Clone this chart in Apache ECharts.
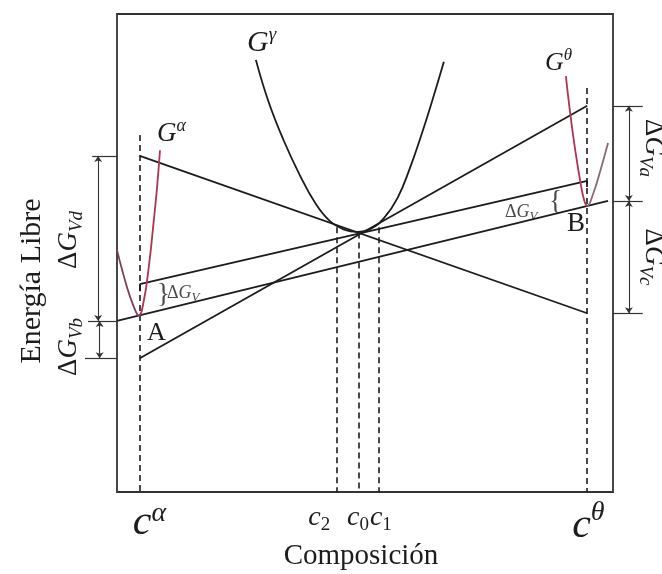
<!DOCTYPE html>
<html>
<head>
<meta charset="utf-8">
<script src="https://cdn.jsdelivr.net/npm/echarts@6/dist/echarts.min.js"></script>
<style>
  html, body { margin: 0; padding: 0; background: #ffffff; }
  #chart { width: 662px; height: 574px; }
</style>
</head>
<body>
<div id="chart"></div>
<script>
// ---- Data (composition 0..100, free energy 0..100) ----

// Marked compositions: cα, c2, c0, c1, cθ and where each dashed guide starts
const markerComps = [4.6, 44.4, 48.8, 52.8, 94.8];
const markerTops  = [74.7, 55.4, 54.3, 55.4, 84.5];

// Free-energy curve of the γ phase
const gGamma = [
  [28.0, 90.4], [30.5, 81.8], [33.5, 73.8], [36.9, 66.2], [40.0, 60.4],
  [43.0, 56.6], [45.8, 54.9], [48.4, 54.4], [51.2, 55.1], [53.9, 57.4],
  [56.6, 61.6], [59.0, 67.6], [61.4, 74.8], [63.6, 82.0], [65.9, 90.0]
];
// Free-energy curve of the α phase
const gAlpha = [
  [0.0, 50.6], [2.0, 42.9], [3.3, 39.0], [4.4, 36.9], [5.4, 40.0],
  [6.4, 47.0], [7.4, 56.6], [8.1, 64.0], [8.67, 71.5]
];
// Free-energy curve of the θ phase
const gTheta = [
  [90.5, 87.0], [91.4, 79.0], [92.4, 71.4], [93.4, 65.0], [94.2, 61.0],
  [94.8, 59.9], [96.0, 62.4], [97.5, 67.4], [99.0, 73.0]
];

// Straight tangent lines [x1, y1, x2, y2]
const tangentLines = [
  [4.6, 70.3, 94.8, 37.4],
  [4.6, 28.0, 94.8, 80.8],
  [4.6, 43.5, 94.8, 65.1],
  [0.0, 35.8, 99.0, 60.9]
];
// Short ticks closing the ΔG_V brackets
const bracketTicks = [
  [4.6, 43.5, 4.6, 42.0],
  [94.8, 65.1, 94.8, 63.8]
];

// Energy levels bounding the ΔG_V intervals
const levelsLeft  = [70.3, 35.8, 28.0];   // ΔG_Vd, ΔG_Vb
const levelsRight = [80.8, 60.9, 37.4];   // ΔG_Va, ΔG_Vc

// ---- Chart ----
const INK = '#1c1c1c';
const SERIF = '"Liberation Serif", "DejaVu Serif", serif';

const seg = (a) => ({ coords: [[a[0], a[1]], [a[2], a[3]]] });

const dashedGuides = markerComps.map((c, i) => seg([c, markerTops[i], c, 0]));

const leftTickX = [-5.0, -5.85, -6.45];
const annotationTicks = [
  ...levelsLeft.map((y, i) => seg([leftTickX[i], y, 0, y])),
  ...levelsRight.map((y) => seg([100, y, 106.0, y]))
];
const annotationArrows = [
  seg([-3.8, levelsLeft[0], -3.8, levelsLeft[1]]),
  seg([-3.5, levelsLeft[1], -3.5, levelsLeft[2]]),
  seg([103.2, levelsRight[0], 103.2, levelsRight[1]]),
  seg([103.2, levelsRight[1], 103.2, levelsRight[2]])
];

// horizontal two-tone stroke, switching colour at the curve minimum
const twoTone = (left, right, at) => new echarts.graphic.LinearGradient(0, 0, 1, 0, [
  { offset: 0, color: left }, { offset: at - 0.04, color: left },
  { offset: at + 0.04, color: right }, { offset: 1, color: right }
]);

const curve = (name, data, color) => ({
  name, type: 'line', data, smooth: 0.45,
  showSymbol: false, clip: false, silent: true,
  lineStyle: { color, width: 1.8 }
});

const chart = echarts.init(document.getElementById('chart'), null, { renderer: 'canvas' });

chart.setOption({
  animation: false,
  backgroundColor: '#ffffff',
  grid: {
    left: 117, top: 14, width: 496, height: 478,
    show: true, borderColor: '#333333', borderWidth: 1.8, backgroundColor: 'transparent'
  },
  xAxis: { type: 'value', min: 0, max: 100, show: false },
  yAxis: { type: 'value', min: 0, max: 100, show: false },
  series: [
    {
      name: 'guides', type: 'lines', coordinateSystem: 'cartesian2d', clip: false,
      data: dashedGuides, silent: true,
      lineStyle: { color: INK, width: 1.6, type: [6, 4], opacity: 1 }
    },
    {
      name: 'tangents', type: 'lines', coordinateSystem: 'cartesian2d', clip: false,
      data: tangentLines.map(seg).concat(bracketTicks.map(seg)), silent: true,
      lineStyle: { color: INK, width: 1.8, opacity: 1 }
    },
    {
      name: 'ticks', type: 'lines', coordinateSystem: 'cartesian2d', clip: false,
      data: annotationTicks, silent: true,
      lineStyle: { color: '#333333', width: 1.2, opacity: 1 }
    },
    {
      name: 'arrows', type: 'lines', coordinateSystem: 'cartesian2d', clip: false,
      data: annotationArrows, silent: true,
      symbol: ['arrow', 'arrow'], symbolSize: 6,
      lineStyle: { color: '#333333', width: 1.1, opacity: 1 }
    },
    curve('Gγ', gGamma, INK),
    curve('Gα', gAlpha, twoTone('#7d3d5a', '#b0334f', 0.5)),
    curve('Gθ', gTheta, twoTone('#b0334f', '#8b6878', 0.5))
  ]
});

// ---- Math-style labels ----
const measureCtx = document.createElement('canvas').getContext('2d');
function textWidth(t, size, italic) {
  measureCtx.font = (italic ? 'italic ' : '') + size + 'px ' + SERIF;
  return measureCtx.measureText(t).width;
}
// parts: [text, size, italic, baselineShift, gapBefore]
function mathText(parts, x, y, opt) {
  opt = opt || {};
  let cx = 0;
  const kids = [];
  parts.forEach((p) => {
    const [t, s, it, dy, gap] = p;
    cx += gap || 0;
    kids.push({
      type: 'text', x: cx, y: (dy || 0) - 0.33 * s, silent: true,
      style: {
        text: t, fontSize: s, fontFamily: SERIF, fontStyle: it ? 'italic' : 'normal',
        font: (it ? 'italic ' : '') + s + 'px ' + SERIF,
        fill: opt.color || INK,
        align: 'left', textAlign: 'left', verticalAlign: 'middle', textVerticalAlign: 'middle'
      }
    });
    cx += textWidth(t, s, it);
  });
  const shift = -(opt.anchor || 0) * cx;
  kids.forEach((k) => { k.x += shift; });
  return { type: 'group', x, y, rotation: opt.rotation || 0, children: kids };
}

const px = (c) => chart.convertToPixel({ gridIndex: 0 }, [c, 0])[0];
const LABEL_GRAY = '#4a4a4a';

const labels = [
  // phase curve names
  mathText([['G', 30, true], ['γ', 19, true, -12]], 247, 53),
  mathText([['G', 27, true], ['α', 18, true, -11]], 157, 143),
  mathText([['G', 26, true], ['θ', 17, true, -11]], 545, 72),
  // tangent points
  mathText([['A', 26, false]], 147, 342),
  mathText([['B', 27, false]], 567, 233),
  // ΔG_V brackets
  mathText([['}', 27, false]], 157, 304, { color: LABEL_GRAY }),
  mathText([['Δ', 18, false], ['G', 18, true], ['V', 13, true, 3]], 167, 299, { color: LABEL_GRAY }),
  mathText([['Δ', 18, false], ['G', 18, true], ['V', 13, true, 3]], 505, 218, { color: LABEL_GRAY }),
  mathText([['{', 27, false]], 549, 211, { color: LABEL_GRAY }),
  // composition labels
  mathText([['c', 42, true], ['α', 28, true, -14]], px(markerComps[0]) - 7, 537),
  mathText([['c', 28, true], ['2', 19, false, 4]], px(markerComps[1]) - 29, 527),
  mathText([['c', 28, true], ['0', 19, false, 4]], px(markerComps[2]) - 12, 527),
  mathText([['c', 28, true], ['1', 19, false, 4]], px(markerComps[3]) - 9, 527),
  mathText([['c', 42, true], ['θ', 28, true, -18]], px(markerComps[4]) - 15, 540),
  // axis titles
  mathText([['Composición', 29, false]], 361, 566, { anchor: 0.5 }),
  mathText([['Energía Libre', 30, false]], 42, 281, { anchor: 0.5, rotation: Math.PI / 2 }),
  // energy intervals
  mathText([['Δ', 27, false], ['G', 27, true], ['V', 19, true, 5], ['d', 19, true, 5]], 78, 240,
           { anchor: 0.5, rotation: Math.PI / 2 }),
  mathText([['Δ', 27, false], ['G', 27, true], ['V', 19, true, 5], ['b', 19, true, 5]], 78, 347,
           { anchor: 0.5, rotation: Math.PI / 2 }),
  mathText([['Δ', 27, false], ['G', 27, true], ['V', 19, true, 5], ['a', 19, true, 5]], 644, 148,
           { anchor: 0.5, rotation: -Math.PI / 2 }),
  mathText([['Δ', 27, false], ['G', 27, true], ['V', 19, true, 5], ['c', 19, true, 5]], 644, 257,
           { anchor: 0.5, rotation: -Math.PI / 2 })
];

chart.setOption({ graphic: { elements: labels } });
</script>
</body>
</html>
